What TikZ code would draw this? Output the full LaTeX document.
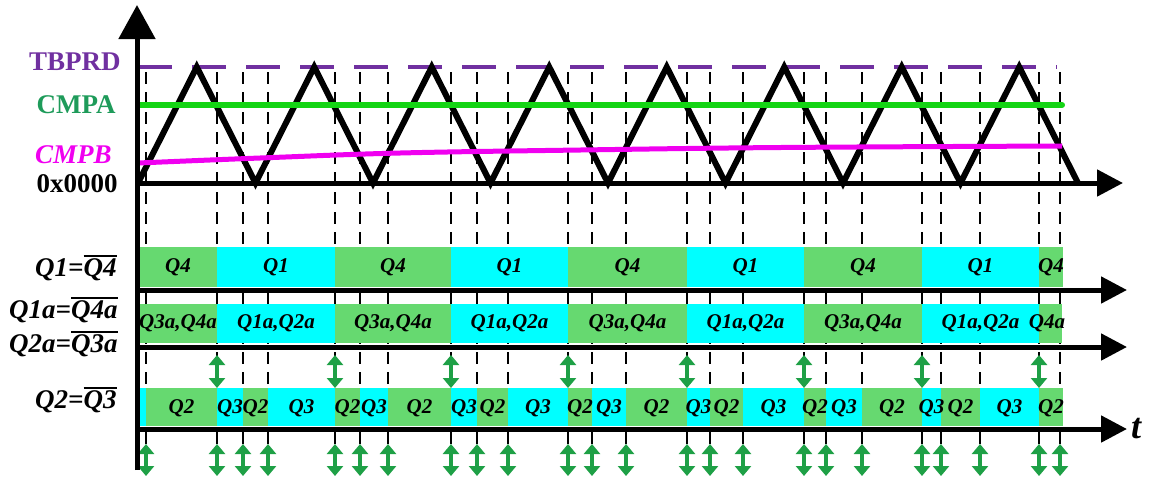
\documentclass[tikz,border=0pt]{standalone}
\usepackage{fontspec}
\setmainfont{Liberation Serif}
\usetikzlibrary{arrows.meta}
\definecolor{tbprd}{RGB}{112,48,160}
\definecolor{cmpaline}{RGB}{20,212,20}
\definecolor{cmpatext}{RGB}{30,155,90}
\definecolor{cmpbline}{RGB}{240,0,240}
\definecolor{qgreen}{RGB}{102,217,112}
\definecolor{qcyan}{RGB}{0,255,255}
\definecolor{arrgreen}{RGB}{30,160,70}
\newcommand{\sigbar}[1]{\vbox{\hrule height 1.3pt\kern0.7pt\hbox{#1}}}
\def\qtwolist{146/217/qgreen/Q2,217/243/qcyan/Q3,243/268/qgreen/Q2,268/335/qcyan/Q3,335/360/qgreen/Q2,360/388/qcyan/Q3,388/451/qgreen/Q2,451/477/qcyan/Q3,477/508/qgreen/Q2,508/568/qcyan/Q3,568/592/qgreen/Q2,592/626/qcyan/Q3,626/687/qgreen/Q2,687/710/qcyan/Q3,710/743/qgreen/Q2,743/804/qcyan/Q3,804/826/qgreen/Q2,826/862/qcyan/Q3,862/922/qgreen/Q2,922/941/qcyan/Q3,941/980/qgreen/Q2,980/1039/qcyan/Q3,1039/1063/qgreen/Q2}
\tikzset{
  lbl/.style={font=\bfseries\fontsize{13.5}{15}\selectfont,anchor=east,inner sep=0pt},
  sig/.style={font=\bfseries\itshape\fontsize{13.5}{15}\selectfont,anchor=east,inner sep=0pt},
  seg/.style={font=\bfseries\itshape\fontsize{10.5}{12}\selectfont,inner sep=0pt},
  cut/.style={line width=1.25pt,dash pattern=on 6pt off 4pt},
  axis/.style={line width=2.5pt,-{Triangle[width=13pt,length=13pt]}},
  dbl/.style={draw=arrgreen,line width=2pt,<->,>={Triangle[width=8pt,length=5pt]}}
}
\begin{document}
\begin{tikzpicture}[x=0.5pt,y=-0.5pt]
\useasboundingbox (0,0) rectangle (1154,478);
% switching instants
\foreach \x in {146,217,243,268,335,360,388,451,477,508,568,592,626,687,710,743,804,826,862,922,941,980,1039,1060}
  \draw[cut] (\x,72) -- (\x,446);
% carrier and compare levels
\draw[tbprd,line width=2pt,dash pattern=on 17pt off 10pt] (138,67) -- (1057,67);
\draw[line width=3pt] (138,183) \foreach \k in {1,...,16} { -- ({138+58.75*\k},{125+58*cos(180*\k)}) };
\draw[cmpaline,line width=3pt,line cap=round] (138,105) -- (1062,105);
\draw[cmpbline,line width=2.5pt] plot[smooth,tension=.6] coordinates{(138,163) (260,158) (400,153) (580,150) (780,147.5) (1062,146)};
% gate signals
\foreach \a/\b/\c/\t in {139/217/qgreen/Q4,217/335/qcyan/Q1,335/451/qgreen/Q4,451/568/qcyan/Q1,568/687/qgreen/Q4,687/804/qcyan/Q1,804/922/qgreen/Q4,922/1039/qcyan/Q1,1039/1063/qgreen/Q4}{
  \fill[\c] (\a,247) rectangle (\b,287);
  \node[seg] (qa\a) at ({(\a+\b)/2},267) {\t};
}
\fill[qgreen] (1039,304) rectangle (1062,343);
\foreach \a/\b/\c/\t in {139/217/qgreen/{Q3a,Q4a},217/335/qcyan/{Q1a,Q2a},335/451/qgreen/{Q3a,Q4a},451/568/qcyan/{Q1a,Q2a},568/687/qgreen/{Q3a,Q4a},687/804/qcyan/{Q1a,Q2a},804/922/qgreen/{Q3a,Q4a},922/1039/qcyan/{Q1a,Q2a}}{
  \fill[\c] (\a,304) rectangle (\b,343);
  \node[seg] (qb\a) at ({(\a+\b)/2},323) {\t};
}
\node[seg] (qb1039) at (1047,323) {Q4a};
\fill[qcyan] (139,388) rectangle (146,426);
\foreach \a/\b/\c/\t in \qtwolist
  \fill[\c] (\a,388) rectangle (\b,426);
\foreach \a/\b/\c/\t in \qtwolist
  \node[seg] (qc\a) at ({(\a+\b)/2},408) {\t};
% dead-time marks
\foreach \x in {217,335,451,568,687,804,922,1039}
  \draw[dbl] (\x,355) -- (\x,388);
\foreach \x in {146,217,243,268,335,360,388,451,477,508,568,592,626,687,710,743,804,826,862,922,941,980,1039,1060}
  \draw[dbl] (\x,444) -- (\x,476);
% axes
\coordinate (o) at (137,183);
\coordinate (yend) at (137,5);
\coordinate (ybot) at (137,470);
\draw[line width=2.5pt,-{Triangle[width=18pt,length=17pt]}] (ybot) -- (yend);
\draw[axis] (o) -- (1123,183);
\draw[axis] (135,290) -- (1127,290);
\draw[axis] (135,347) -- (1127,347);
\draw[axis] (135,429) -- (1127,429);
\node[font=\bfseries\itshape\fontsize{18}{20}\selectfont,inner sep=0pt] (t) at (1136,429) {t};
% labels
\node[lbl,text=tbprd] (tbprdlbl) at (121,62) {TBPRD};
\node[lbl,text=cmpatext] (cmpalbl) at (116,105) {CMPA};
\node[lbl,text=cmpbline,font=\bfseries\itshape\fontsize{13.5}{15}\selectfont] (cmpblbl) at (112,155) {CMPB};
\node[lbl] (zerolbl) at (118,184) {0x0000};
\node[sig] (q1lbl) at (117,268) {Q1=\sigbar{Q4}};
\node[sig] (q1albl) at (118,310) {Q1a=\sigbar{Q4a}};
\node[sig] (q2albl) at (118,344) {Q2a=\sigbar{Q3a}};
\node[sig] (q2lbl) at (117,400) {Q2=\sigbar{Q3}};
\end{tikzpicture}
\end{document}
